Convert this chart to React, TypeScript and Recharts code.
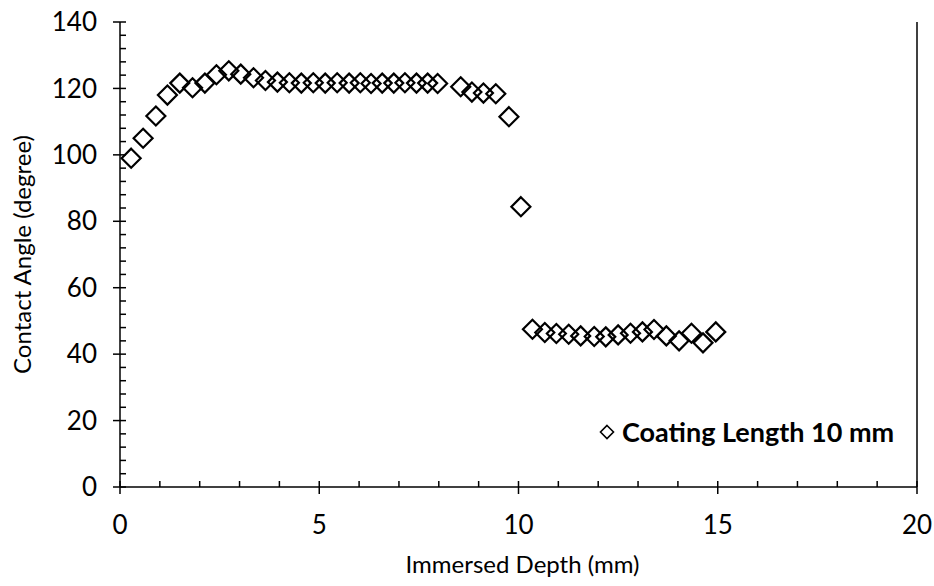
import React from "react";
import {
  ScatterChart,
  Scatter,
  XAxis,
  YAxis,
  Label,
  ReferenceLine,
} from "recharts";

// Immersed depth (mm)
const depth = [
  0.28, 0.58, 0.9, 1.19, 1.5, 1.82, 2.13, 2.42, 2.73, 3.03, 3.35, 3.65, 3.95,
  4.25, 4.55, 4.85, 5.15, 5.45, 5.75, 6.03, 6.3, 6.58, 6.87, 7.15, 7.44, 7.72,
  7.97, 8.55, 8.83, 9.12, 9.43, 9.76, 10.06, 10.35, 10.66, 10.95, 11.26, 11.56,
  11.9, 12.19, 12.5, 12.81, 13.11, 13.4, 13.71, 14.03, 14.34, 14.63, 14.95,
];

// Contact angle (degree)
const angle = [
  99.0, 105.0, 111.7, 118.0, 121.6, 120.2, 121.6, 124.1, 125.3, 124.3, 123.2,
  122.4, 121.9, 121.7, 121.6, 121.7, 121.6, 121.7, 121.6, 121.7, 121.5, 121.6,
  121.6, 121.7, 121.6, 121.6, 121.5, 120.5, 118.9, 118.6, 118.4, 111.5, 84.4,
  47.5, 46.5, 46.2, 46.0, 45.5, 45.3, 45.2, 45.8, 46.3, 46.7, 47.4, 45.5, 44.0,
  46.3, 43.4, 46.7,
];

const xTicks = [0, 1, 2, 3, 4, 5, 6, 7, 8, 9, 10, 11, 12, 13, 14, 15, 16, 17, 18, 19, 20];
const yTicks = [
  0, 4, 8, 12, 16, 20, 24, 28, 32, 36, 40, 44, 48, 52, 56, 60, 64, 68, 72, 76,
  80, 84, 88, 92, 96, 100, 104, 108, 112, 116, 120, 124, 128, 132, 136, 140,
];

const seriesName = "Coating Length 10 mm";

const data = depth.map((d, i) => ({ depth: d, angle: angle[i] }));

const FONT = "Lato, 'Open Sans', sans-serif";

const Diamond = (props: any) => {
  const { cx, cy } = props;
  const r = 9.5;
  return (
    <path
      d={`M${cx},${cy - r}L${cx + r},${cy}L${cx},${cy + r}L${cx - r},${cy}Z`}
      fill="none"
      stroke="#000"
      strokeWidth={2.2}
    />
  );
};

const XTick = (props: any) => {
  const { x, y, payload } = props;
  const major = payload.value % 5 === 0;
  return (
    <g>
      <line x1={x} x2={x} y1={y - 6} y2={major ? y + 7 : y} stroke="#000" strokeWidth={1.5} />
      {major && (
        <text x={x} y={y + 38} dy="0.35em" textAnchor="middle" fontFamily={FONT} fontSize={26} fill="#000">
          {payload.value}
        </text>
      )}
    </g>
  );
};

const YTick = (props: any) => {
  const { x, y, payload } = props;
  const major = payload.value % 20 === 0;
  return (
    <g>
      <line x1={major ? x - 7 : x} x2={x + 6} y1={y} y2={y} stroke="#000" strokeWidth={1.5} />
      {major && (
        <text x={x - 23} y={y} dy="0.35em" textAnchor="end" fontFamily={FONT} fontSize={26} fill="#000">
          {payload.value}
        </text>
      )}
    </g>
  );
};

const LegendBox = () => (
  <div
    style={{
      position: "absolute",
      left: 599,
      top: 415,
      display: "flex",
      alignItems: "center",
      fontFamily: FONT,
      lineHeight: "34px",
      whiteSpace: "nowrap",
    }}
  >
    <svg width={16} height={16} style={{ marginRight: 7 }}>
      <path d="M8,1.5L14.5,8L8,14.5L1.5,8Z" fill="none" stroke="#000" strokeWidth={1.6} />
    </svg>
    <span style={{ fontSize: 27, fontWeight: 700, color: "#000" }}>{seriesName}</span>
  </div>
);

export default function App() {
  return (
    <div style={{ position: "absolute", left: 0, top: 0, width: 934, height: 586 }}>
      <ScatterChart
        width={934}
        height={586}
        margin={{ top: 22, right: 17, bottom: 0, left: 0 }}
      >
        <XAxis
          type="number"
          dataKey="depth"
          domain={[0, 20]}
          ticks={xTicks}
          interval={0}
          tickSize={0}
          tickMargin={0}
          tickLine={false}
          tick={<XTick />}
          axisLine={{ stroke: "#000", strokeWidth: 1.5 }}
          height={99}
        >
          <Label
            content={({ viewBox }: any) => (
              <text
                x={viewBox.x + viewBox.width / 2 + 4}
                y={viewBox.y + 86}
                textAnchor="middle"
                fontFamily={FONT}
                fontSize={24}
                fill="#000"
              >
                Immersed Depth (mm)
              </text>
            )}
          />
        </XAxis>
        <YAxis
          type="number"
          dataKey="angle"
          domain={[0, 140]}
          ticks={yTicks}
          interval={0}
          tickSize={0}
          tickMargin={0}
          tickLine={false}
          tick={<YTick />}
          axisLine={{ stroke: "#000", strokeWidth: 1.5 }}
          width={120}
        >
          <Label
            content={({ viewBox }: any) => {
              const cx = viewBox.x + 23;
              const cy = viewBox.y + viewBox.height / 2;
              return (
                <text
                  x={cx}
                  y={cy}
                  dy="0.35em"
                  textAnchor="middle"
                  transform={`rotate(-90, ${cx}, ${cy})`}
                  fontFamily={FONT}
                  fontSize={24}
                  fill="#000"
                >
                  Contact Angle (degree)
                </text>
              );
            }}
          />
        </YAxis>
        <ReferenceLine x={20} stroke="#000" strokeWidth={1.5} />
        <Scatter
          name={seriesName}
          data={data}
          shape={<Diamond />}
          isAnimationActive={false}
        />
      </ScatterChart>
      <LegendBox />
    </div>
  );
}
